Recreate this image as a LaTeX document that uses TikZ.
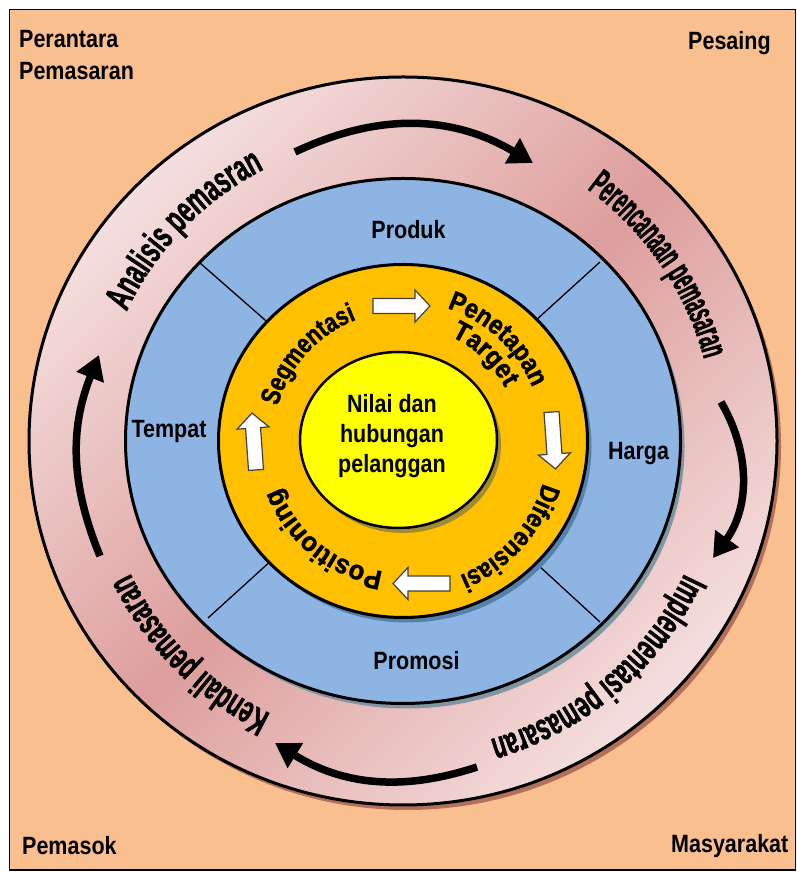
\documentclass[tikz,border=0pt]{standalone}
\usepackage{fontspec}
\setmainfont{Liberation Sans}[FakeStretch=0.86]
\newfontfamily\ringfam{Liberation Sans}
\usetikzlibrary{decorations.text,arrows.meta}

\definecolor{peach}{RGB}{249,191,143}
\definecolor{pinklt}{RGB}{244,223,222}
\definecolor{pinkdk}{RGB}{221,158,156}
\definecolor{ringshadow}{RGB}{178,112,92}
\definecolor{bluefill}{RGB}{141,180,226}
\definecolor{blueshadow}{RGB}{128,150,162}
\definecolor{orangefill}{RGB}{255,192,0}
\definecolor{orangeshadow}{RGB}{84,130,170}
\definecolor{yellowfill}{RGB}{255,255,0}
\definecolor{yellowshadow}{RGB}{160,140,50}

\newcommand\lblfont{\fontsize{25}{30}\selectfont\bfseries}
\newcommand\outerring[1]{\fontsize{38}{38}\selectfont\ringfam\bfseries\addfontfeature{FakeStretch=#1,FakeBold=1.2}}
\newcommand\innerring[1]{\fontsize{27}{27}\selectfont\ringfam\bfseries\addfontfeature{FakeStretch=#1,FakeBold=1.5}}

\tikzset{
  lbl/.style={inner sep=0pt, font=\lblfont},
  cyclearrow/.style={line width=7.5pt, -{Triangle[length=24pt,width=28pt]}},
  blockarr/.style={fill=white, draw=black!75, line width=1.2pt, line join=miter},
  ringtext/.style={decorate, decoration={text along path, text align=center, text={#1}}}
}

\begin{document}
\begin{tikzpicture}[x=1pt,y=1pt]
\useasboundingbox (0,0) rectangle (797,872);
\coordinate (C) at (403,431);
\coordinate (Y) at (398.5,432);

% background
\fill[peach, draw=black, line width=1.5pt] (9.5,2) rectangle (795.5,862.5);

% outer ring
\fill[ringshadow] ([shift={(4,-5)}]C) ellipse[x radius=374, y radius=364];
\shade[top color=pinklt, bottom color=pinklt, middle color=pinkdk, shading angle=45] (C) ellipse[x radius=374, y radius=364];
\draw[line width=3pt] (C) ellipse[x radius=374, y radius=364];

% blue disc
\fill[blueshadow] ([shift={(4,-5)}]C) ellipse[x radius=277.5, y radius=262.5];
\draw[fill=bluefill, line width=3pt] (C) ellipse[x radius=277.5, y radius=262.5];
\draw[line width=1.3pt] (C) -- (200,609);
\draw[line width=1.3pt] (C) -- (600,610);
\draw[line width=1.3pt] (C) -- (208,254);
\draw[line width=1.3pt] (C) -- (600,250);

% orange disc
\fill[orangeshadow] ([shift={(4,-5)}]C) ellipse[x radius=184.5, y radius=176.5];
\draw[fill=orangefill, line width=3pt] (C) ellipse[x radius=184.5, y radius=176.5];

% yellow
\fill[yellowshadow] ([shift={(4,-5)}]Y) ellipse[x radius=98.5, y radius=88];
\draw[fill=yellowfill, line width=2.5pt] (Y) ellipse[x radius=98.5, y radius=88];

% labels
\node[lbl, anchor=base west] (perantara) at (19,824) {Perantara};
\node[lbl, anchor=base west] (pemasaran) at (19,792) {Pemasaran};
\node[lbl, anchor=base west] (pesaing) at (688,822) {Pesaing};
\node[lbl, anchor=base west] (pemasok) at (22,17) {Pemasok};
\node[lbl, anchor=base west] (masyarakat) at (671,19) {Masyarakat};
\node[lbl, anchor=base] (produk) at (408.5,633) {Produk};
\node[lbl, anchor=base] (tempat) at (169,434) {Tempat};
\node[lbl, anchor=base] (harga) at (638.5,412) {Harga};
\node[lbl, anchor=base] (promosi) at (416.5,202) {Promosi};
\node[lbl, align=center] (nilai) at (392,435.5) {Nilai dan\\hubungan\\pelanggan};

% outer ring texts
\path[ringtext={|\outerring{0.60}|Analisis pemasran}] (C) ++(180:305) arc[start angle=180, end angle=92, radius=305];
\path[ringtext={|\outerring{0.47}|Perencanaan pemasaran}] (C) ++(80:312) arc[start angle=80, end angle=-11, radius=312];
\path[ringtext={|\outerring{0.58}|Implementasi pemasaran}] (C) ++(-4:311) arc[start angle=-4, end angle=-95, radius=311];
\path[ringtext={|\outerring{0.58}|Kendali pemasaran}] (C) ++(270:303) arc[start angle=270, end angle=180, radius=303];

% inner ring texts
\path[ringtext={|\innerring{0.80}|Segmentasi}] (C) ++(180:130) arc[start angle=180, end angle=95.5, radius=130];
\path[ringtext={|\innerring{0.88}|Penetapan}] (C) ++(90:140) arc[start angle=90, end angle=4, radius=140];
\path[ringtext={|\innerring{0.92}|Target}] (C) ++(90:115) arc[start angle=90, end angle=3, radius=115];
\path[ringtext={|\innerring{0.84}|Diferensiasi}] (C) ++(0:146) arc[start angle=0, end angle=-84, radius=146];
\path[ringtext={|\innerring{0.95}|Positioning}] (C) ++(-85:132) arc[start angle=-85, end angle=-173, radius=132];

% black cycle arrows
\coordinate (a1s) at (295,720); \coordinate (a1e) at (533,709);
\coordinate (a2s) at (721,470); \coordinate (a2e) at (713,314);
\coordinate (a3s) at (477,105); \coordinate (a3e) at (275,129);
\coordinate (a4s) at (100,316); \coordinate (a4e) at (99,517);
\draw[cyclearrow] (a1s) to[bend left=28] (a1e);
\draw[cyclearrow] (a2s) to[bend left=33] (a2e);
\draw[cyclearrow] (a3s) to[bend left=25] (a3e);
\draw[cyclearrow] (a4s) to[bend left=22] (a4e);

% white block arrows
\foreach \px/\py/\rot in {401.5/566/0, 553.5/431.5/-86, 421.5/288.5/180, 254/430.5/94}{
  \begin{scope}[shift={(\px,\py)}, rotate=\rot]
    \draw[blockarr] (-28.5,-7.5) -- (13.5,-7.5) -- (13.5,-16) -- (28.5,0) -- (13.5,16) -- (13.5,7.5) -- (-28.5,7.5) -- cycle;
  \end{scope}
}
\end{tikzpicture}
\end{document}
